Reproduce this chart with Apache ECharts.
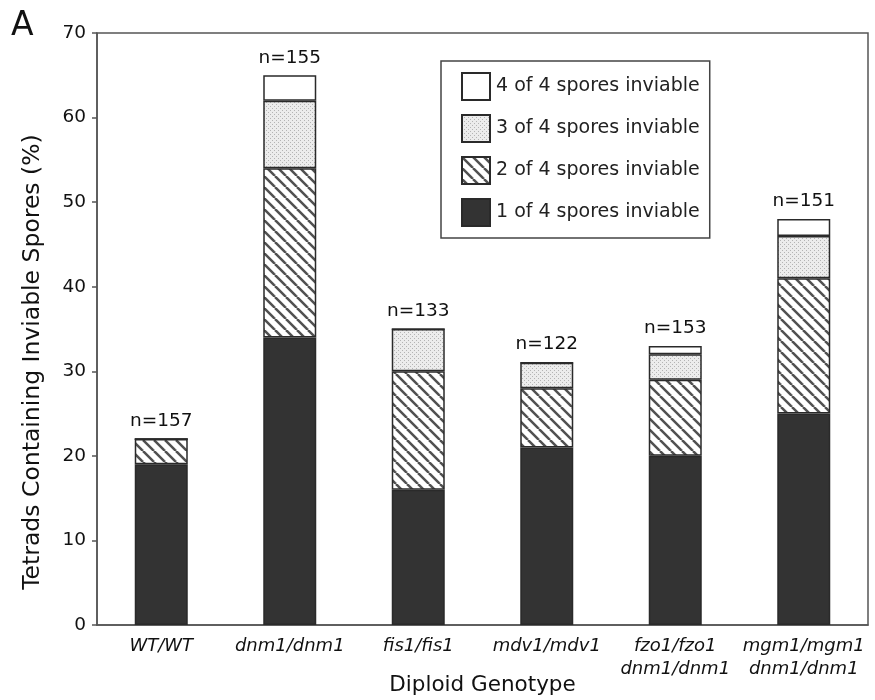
<!DOCTYPE html>
<html>
<head>
<meta charset="utf-8">
<script src="https://cdn.jsdelivr.net/npm/echarts@6/dist/echarts.min.js"></script>
<style>
html,body{margin:0;padding:0;background:#fff;}
#chart{width:875px;height:700px;}
</style>
</head>
<body>
<div id="chart"></div>
<script>
// ---- data ----
var categories = ['WT/WT', 'dnm1/dnm1', 'fis1/fis1', 'mdv1/mdv1', 'fzo1/fzo1\ndnm1/dnm1', 'mgm1/mgm1\ndnm1/dnm1'];
var oneOfFour   = [19, 34, 16, 21, 20, 25];
var twoOfFour   = [3, 20, 14, 7, 9, 16];
var threeOfFour = [0, 8, 5, 3, 3, 5];
var fourOfFour  = [0, 3, 0, 0, 1, 2];
var nCounts     = [157, 155, 133, 122, 153, 151];
var seriesNames = ['1 of 4 spores inviable', '2 of 4 spores inviable', '3 of 4 spores inviable', '4 of 4 spores inviable'];
var yTicks = { min: 0, max: 70, interval: 10 };

// ---- patterns ----
function hatchPattern() {
  var s = 11;
  var c = document.createElement('canvas');
  c.width = s; c.height = s;
  var ctx = c.getContext('2d');
  ctx.fillStyle = '#ffffff';
  ctx.fillRect(0, 0, s, s);
  ctx.strokeStyle = '#505050';
  ctx.lineWidth = 2.5;
  [-s, 0, s].forEach(function (x0) {
    ctx.beginPath();
    ctx.moveTo(x0, 0);
    ctx.lineTo(x0 + s, s);
    ctx.stroke();
  });
  return { image: c, repeat: 'repeat' };
}
function dotPattern() {
  var c = document.createElement('canvas');
  c.width = 4; c.height = 4;
  var ctx = c.getContext('2d');
  ctx.fillStyle = '#ececec';
  ctx.fillRect(0, 0, 4, 4);
  ctx.fillStyle = '#b4b4b4';
  ctx.fillRect(0, 0, 1, 1);
  ctx.fillRect(2, 2, 1, 1);
  return { image: c, repeat: 'repeat' };
}

var border = { borderColor: '#2a2a2a', borderWidth: 1.5 };
function mkSeries(name, data, fill, extra) {
  var s = {
    name: name,
    type: 'bar',
    stack: 'total',
    barWidth: 53,
    data: data,
    itemStyle: Object.assign({ color: fill }, border),
    emphasis: { disabled: true },
    animation: false
  };
  return Object.assign(s, extra || {});
}

var chart = echarts.init(document.getElementById('chart'), null, { renderer: 'canvas' });
var FONT = 'DejaVu Sans, Liberation Sans, Arial, sans-serif';

chart.setOption({
  backgroundColor: '#ffffff',
  animation: false,
  textStyle: { fontFamily: FONT },
  title: {
    text: 'A', left: 6, top: 5,
    textStyle: { fontFamily: FONT, fontSize: 33, fontWeight: 'normal', color: '#111' }
  },
  grid: {
    left: 97, right: 7, top: 33, bottom: 75,
    outerBoundsMode: 'none',
    containLabel: false,
    show: true, borderColor: '#555', borderWidth: 1.5, backgroundColor: 'transparent'
  },
  legend: {
    orient: 'vertical',
    left: 441, top: 61,
    data: [seriesNames[3], seriesNames[2], seriesNames[1], seriesNames[0]],
    itemWidth: 28, itemHeight: 27, itemGap: 13,
    padding: [11, 10, 11, 20],
    borderColor: '#444', borderWidth: 1.5,
    backgroundColor: '#fff',
    icon: 'rect',
    selectedMode: false,
    textStyle: { fontFamily: FONT, fontSize: 19, color: '#222', padding: [0, 0, 0, 1] }
  },
  xAxis: {
    type: 'category',
    data: categories,
    name: 'Diploid Genotype',
    nameLocation: 'middle',
    nameGap: 49,
    nameMoveOverlap: false,
    nameTextStyle: { fontFamily: FONT, fontSize: 21.5, color: '#111' },
    axisLine: { lineStyle: { color: '#555', width: 1.5 } },
    axisTick: { show: false },
    axisLabel: {
      fontFamily: FONT, fontSize: 18, fontStyle: 'italic', color: '#111',
      margin: 10, lineHeight: 23, interval: 0
    }
  },
  yAxis: {
    type: 'value',
    min: yTicks.min, max: yTicks.max, interval: yTicks.interval,
    name: 'Tetrads Containing Inviable Spores (%)',
    nameLocation: 'middle',
    nameRotate: 90,
    nameGap: 52,
    nameMoveOverlap: false,
    nameTextStyle: { fontFamily: FONT, fontSize: 23.5, color: '#111', padding: [0, 66, 0, 0] },
    axisLine: { show: true, lineStyle: { color: '#555', width: 1.5 } },
    axisTick: { show: true, length: 5, lineStyle: { color: '#555', width: 1.5 } },
    splitLine: { show: false },
    axisLabel: { fontFamily: FONT, fontSize: 18.5, color: '#111', margin: 11 }
  },
  series: [
    mkSeries(seriesNames[0], oneOfFour, '#333333'),
    mkSeries(seriesNames[1], twoOfFour, hatchPattern()),
    mkSeries(seriesNames[2], threeOfFour, dotPattern()),
    mkSeries(seriesNames[3], fourOfFour, '#ffffff', {
      label: {
        show: true, position: 'top', distance: 8,
        fontFamily: FONT, fontSize: 18.5, color: '#111',
        formatter: function (p) { return 'n=' + nCounts[p.dataIndex]; }
      }
    })
  ]
});
</script>
</body>
</html>
